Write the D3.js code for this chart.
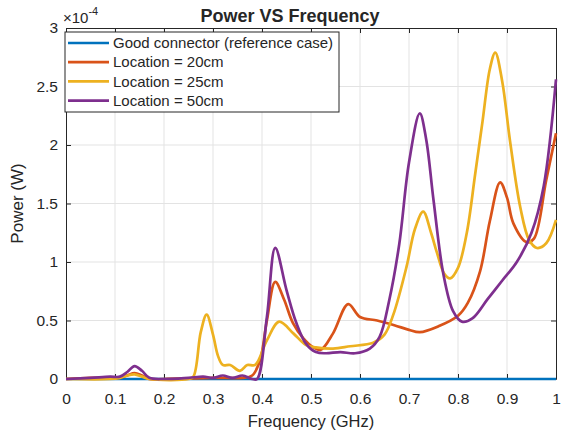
<!DOCTYPE html>
<html>
<head>
<meta charset="utf-8">
<script src="https://cdn.jsdelivr.net/npm/d3@7"></script>
<style>
  body { margin: 0; background: #fff; }
  svg text { font-family: "Liberation Sans", Arial, sans-serif; fill: #262626; }
</style>
</head>
<body>
<div id="chart"></div>
<script>
// frequency in GHz, power in units of 1e-4 W
const goodFreq = [0, 1];
const goodPower = [0, 0];

const loc20Freq = [0, 0.05, 0.09, 0.11, 0.125, 0.14, 0.155, 0.17, 0.2, 0.3, 0.36, 0.38, 0.396, 0.41, 0.427, 0.445, 0.463, 0.484, 0.505, 0.52, 0.545, 0.576, 0.6, 0.635, 0.67, 0.7, 0.722, 0.76, 0.8, 0.82, 0.845, 0.865, 0.886, 0.9, 0.913, 0.94, 0.955, 0.98, 1.0];
const loc20Power = [0, 0.01, 0.01, 0.01, 0.03, 0.05, 0.03, 0.0, 0.0, 0.01, 0.01, 0.03, 0.16, 0.5, 0.83, 0.68, 0.48, 0.35, 0.27, 0.25, 0.39, 0.64, 0.53, 0.5, 0.46, 0.42, 0.40, 0.45, 0.54, 0.65, 0.92, 1.35, 1.68, 1.55, 1.33, 1.17, 1.2, 1.7, 2.1];

const loc25Freq = [0, 0.09, 0.11, 0.125, 0.14, 0.155, 0.17, 0.25, 0.26, 0.275, 0.287, 0.3, 0.31, 0.32, 0.335, 0.355, 0.37, 0.386, 0.41, 0.435, 0.464, 0.49, 0.51, 0.545, 0.58, 0.627, 0.65, 0.668, 0.695, 0.712, 0.729, 0.745, 0.757, 0.772, 0.784, 0.8, 0.818, 0.835, 0.85, 0.865, 0.876, 0.89, 0.906, 0.927, 0.945, 0.961, 0.98, 1.0];
const loc25Power = [0, 0.0, 0.01, 0.03, 0.04, 0.02, 0, 0, 0.02, 0.4, 0.55, 0.38, 0.2, 0.12, 0.12, 0.07, 0.12, 0.12, 0.33, 0.49, 0.39, 0.29, 0.27, 0.26, 0.28, 0.31, 0.38, 0.55, 0.96, 1.28, 1.43, 1.25, 1.08, 0.9, 0.86, 0.95, 1.25, 1.75, 2.2, 2.65, 2.79, 2.55, 2.04, 1.47, 1.19, 1.12, 1.16, 1.36];

const loc50Freq = [0, 0.05, 0.09, 0.11, 0.125, 0.14, 0.155, 0.17, 0.2, 0.25, 0.28, 0.3, 0.32, 0.34, 0.36, 0.38, 0.39, 0.41, 0.427, 0.45, 0.47, 0.49, 0.51, 0.53, 0.56, 0.59, 0.62, 0.64, 0.66, 0.68, 0.7, 0.722, 0.735, 0.75, 0.77, 0.79, 0.808, 0.83, 0.86, 0.89, 0.92, 0.95, 0.975, 1.0];
const loc50Power = [0, 0.01, 0.02, 0.02, 0.06, 0.11, 0.07, 0.01, 0.0, 0.01, 0.02, 0.01, 0.03, 0.01, 0.03, 0.0, 0.0, 0.53, 1.12, 0.76, 0.48, 0.3, 0.23, 0.22, 0.23, 0.22, 0.26, 0.36, 0.68, 1.15, 1.85, 2.27, 2.05, 1.53, 0.9, 0.58, 0.49, 0.52, 0.68, 0.84, 1.0, 1.25, 1.65, 2.56];

const seriesNames = ["Good connector (reference case)", "Location = 20cm", "Location = 25cm", "Location = 50cm"];
const seriesColors = ["#0072BD", "#D95319", "#EDB120", "#7E2F8E"];
const xTicks = [0, 0.1, 0.2, 0.3, 0.4, 0.5, 0.6, 0.7, 0.8, 0.9, 1];
const yTicks = [0, 0.5, 1, 1.5, 2, 2.5, 3];

const WIDTH = 562, HEIGHT = 432;
const LEFT = 66, RIGHT = 556, TOP = 28, BOTTOM = 379;

const series = [
  [goodFreq, goodPower],
  [loc20Freq, loc20Power],
  [loc25Freq, loc25Power],
  [loc50Freq, loc50Power]
].map(([f, p], i) => ({
  name: seriesNames[i],
  color: seriesColors[i],
  points: f.map((x, j) => [x, p[j]])
}));

const svg = d3.select("#chart").append("svg")
  .attr("width", WIDTH)
  .attr("height", HEIGHT);

const x = d3.scaleLinear().domain([0, 1]).range([LEFT, RIGHT]);
const y = d3.scaleLinear().domain([0, 3]).range([BOTTOM, TOP]);

// grid
svg.append("g").selectAll("line").data(xTicks.slice(1, -1)).join("line")
  .attr("x1", d => x(d)).attr("x2", d => x(d))
  .attr("y1", TOP).attr("y2", BOTTOM)
  .attr("stroke", "#e3e3e3").attr("stroke-width", 1);
svg.append("g").selectAll("line").data(yTicks.slice(1, -1)).join("line")
  .attr("x1", LEFT).attr("x2", RIGHT)
  .attr("y1", d => y(d)).attr("y2", d => y(d))
  .attr("stroke", "#e3e3e3").attr("stroke-width", 1);

// axes (ticks pointing inward like MATLAB)
const axisStyle = g => {
  g.select(".domain").attr("stroke", "#262626");
  g.selectAll(".tick line").attr("stroke", "#262626");
  g.selectAll(".tick text").attr("font-size", "15.5px").attr("fill", "#262626")
    .attr("font-family", "Liberation Sans, Arial, sans-serif");
};

svg.append("g")
  .attr("transform", `translate(0,${BOTTOM})`)
  .call(d3.axisBottom(x).tickValues(xTicks).tickSizeInner(-5).tickSizeOuter(0).tickPadding(14).tickFormat(d3.format("~g")))
  .call(axisStyle);
svg.append("g")
  .attr("transform", `translate(0,${TOP})`)
  .call(d3.axisTop(x).tickValues(xTicks).tickSizeInner(-5).tickSizeOuter(0).tickFormat(""))
  .call(axisStyle);
svg.append("g")
  .attr("transform", `translate(${LEFT},0)`)
  .call(d3.axisLeft(y).tickValues(yTicks).tickSizeInner(-5).tickSizeOuter(0).tickPadding(8).tickFormat(d3.format("~g")))
  .call(axisStyle);
svg.append("g")
  .attr("transform", `translate(${RIGHT},0)`)
  .call(d3.axisRight(y).tickValues(yTicks).tickSizeInner(-5).tickSizeOuter(0).tickFormat(""))
  .call(axisStyle);

// lines
const line = d3.line()
  .x(d => x(d[0]))
  .y(d => y(d[1]))
  .curve(d3.curveCatmullRom.alpha(0.5));

svg.append("g").selectAll("path").data(series).join("path")
  .attr("d", d => line(d.points))
  .attr("fill", "none")
  .attr("stroke", d => d.color)
  .attr("stroke-width", 2.7)
  .attr("stroke-linejoin", "round");

// exponent label
const expo = svg.append("text").attr("x", 63).attr("y", 23).attr("font-size", "15px");
expo.append("tspan").text("\u00d710");
expo.append("tspan").attr("dy", -8).attr("font-size", "11px").text("-4");

// title
svg.append("text")
  .attr("x", 290).attr("y", 22)
  .attr("text-anchor", "middle")
  .attr("font-size", "18px").attr("font-weight", "bold")
  .text("Power VS Frequency");

// axis labels
svg.append("text")
  .attr("x", (LEFT + RIGHT) / 2).attr("y", 427)
  .attr("text-anchor", "middle")
  .attr("font-size", "16.5px")
  .text("Frequency (GHz)");
svg.append("text")
  .attr("transform", `translate(23,${(TOP + BOTTOM) / 2}) rotate(-90)`)
  .attr("text-anchor", "middle")
  .attr("font-size", "17px")
  .text("Power (W)");

// legend
const legend = svg.append("g");
legend.append("rect")
  .attr("x", 65).attr("y", 32).attr("width", 274).attr("height", 80)
  .attr("fill", "#fff").attr("stroke", "#262626").attr("stroke-width", 1);
const rows = legend.selectAll("g.row").data(series).join("g")
  .attr("class", "row")
  .attr("transform", (d, i) => `translate(0,${43 + i * 19.2})`);
rows.append("line")
  .attr("x1", 68).attr("x2", 109)
  .attr("stroke", d => d.color).attr("stroke-width", 2.7);
rows.append("text")
  .attr("x", 113).attr("dy", "0.35em")
  .attr("font-size", "15px")
  .text(d => d.name);
</script>
</body>
</html>
